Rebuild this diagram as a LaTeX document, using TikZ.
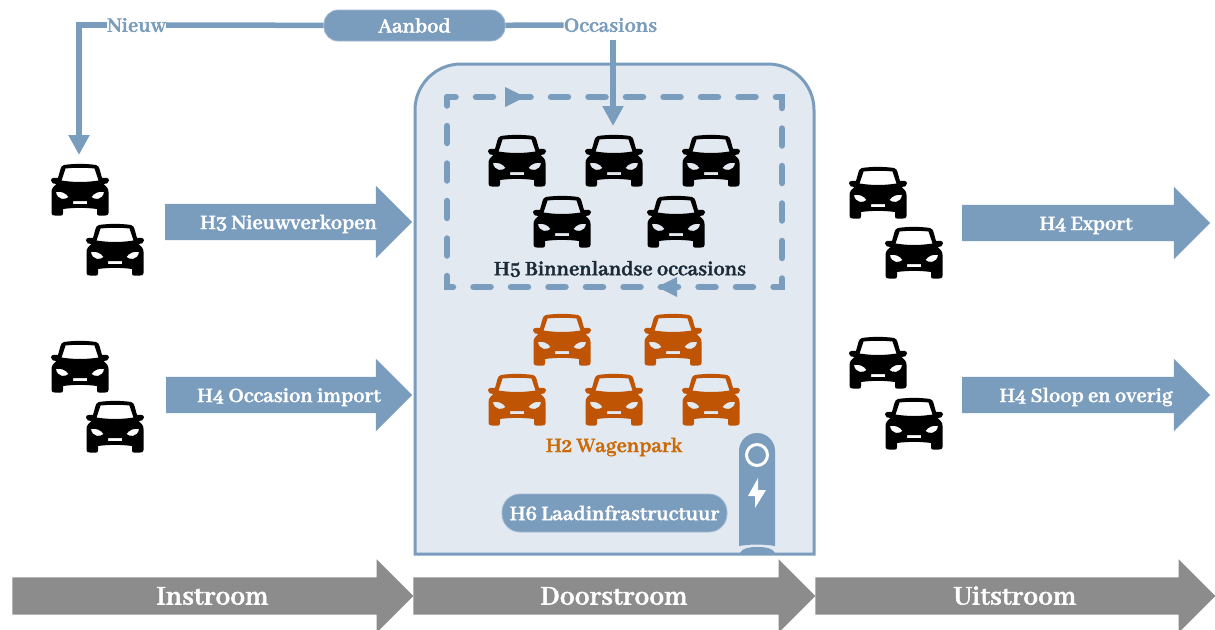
\documentclass[tikz,border=0pt]{standalone}
\usepackage{fontspec}
\setmainfont[Numbers=OldStyle, BoldFeatures={FakeBold=1.8}]{Abhaya Libre}
\usetikzlibrary{arrows.meta, shapes.arrows}

\definecolor{flowBlue}{HTML}{7A9CBD}
\definecolor{panelBlue}{HTML}{E2E9F0}
\definecolor{flowGrey}{HTML}{8C8C8C}
\definecolor{carOrange}{HTML}{C05405}
\definecolor{labelOrange}{HTML}{CC6A05}
\definecolor{labelDark}{HTML}{1B2A38}

\tikzset{
    labelText/.style={font=\fontsize{22.4}{24}\selectfont\bfseries, inner sep=0pt},
    blockArrow/.style={single arrow, fill=#1, text=white, draw=none, inner ysep=10pt, inner xsep=0pt,
        text height=15pt, text depth=1pt, minimum width=72pt, single arrow tip angle=90,
        single arrow head extend=18pt, execute at begin node=\hspace*{18pt}},
    flowArrow/.style={blockArrow=flowBlue, font=\fontsize{22.4}{24}\selectfont\bfseries},
    stageArrow/.style={blockArrow=flowGrey, minimum width=69pt, text height=17pt, text depth=0pt,
        font=\fontsize{29.5}{30}\selectfont\bfseries},
    pillNode/.style={rounded corners=14pt, fill=flowBlue, draw=flowBlue!70!white, text=white, line width=0.8pt,
        font=\fontsize{22.4}{24}\selectfont\bfseries},
    supplyLine/.style={draw=flowBlue, line width=5.5pt},
    supplyArrow/.style={supplyLine, -{Triangle[length=20pt, width=20pt]}},
    car/.pic={
        \path[pic actions, even odd rule]
            (-16,-25) .. controls (-6,-26.5) and (6,-26.5) .. (16,-25)
            .. controls (18,-24.5) and (19,-23) .. (19.5,-21) -- (22,-12)
            .. controls (25,-12.5) and (29,-12.5) .. (29,-9.5) .. controls (29,-6.5) and (26,-6) .. (23.5,-6)
            .. controls (26,-4) and (28.5,-2) .. (28.5,2) -- (28.5,23)
            .. controls (28.5,25) and (27,25.5) .. (25,25.5) -- (19,25.5)
            .. controls (17.5,25.5) and (17,25) .. (17,23) -- (17,19)
            .. controls (6,17.5) and (-6,17.5) .. (-17,19) -- (-17,23)
            .. controls (-17,25) and (-17.5,25.5) .. (-19,25.5) -- (-25,25.5)
            .. controls (-27,25.5) and (-28.5,25) .. (-28.5,23) -- (-28.5,2)
            .. controls (-28.5,-2) and (-26,-4) .. (-23.5,-6)
            .. controls (-26,-6) and (-29,-6.5) .. (-29,-9.5) .. controls (-29,-12.5) and (-25,-12.5) .. (-22,-12)
            -- (-19.5,-21) .. controls (-19,-23) and (-18,-24.5) .. (-16,-25) -- cycle
            (-14.5,-21.5) .. controls (-5,-22.5) and (5,-22.5) .. (14.5,-21.5) -- (18.5,-9.5)
            .. controls (6,-7.5) and (-6,-7.5) .. (-18.5,-9.5) -- cycle
            (-24,2) .. controls (-19,1) and (-14,3) .. (-11.5,7) .. controls (-14,10) and (-23,10.5) .. (-24,2) -- cycle
            (24,2) .. controls (19,1) and (14,3) .. (11.5,7) .. controls (14,10) and (23,10.5) .. (24,2) -- cycle
            (-7,11) rectangle (7,14);
    },
}

\begin{document}
\begin{tikzpicture}[x=1pt, y=-1pt]
        \useasboundingbox (0,0) rectangle (1215,629);

        \draw[draw=flowBlue, fill=panelBlue, line width=3pt] (415,554) -- (415,110)
            arc[start angle=180, end angle=270, radius=46] -- (768,64)
            arc[start angle=270, end angle=360, radius=46] -- (814,554) -- cycle;
        \draw[draw=flowBlue, line width=6.5pt, line cap=round, dash pattern=on 17pt off 20.5pt, dash phase=8.5pt]
            (447,97) -- (782,97) -- (782,287) -- (447,287) -- cycle;
        \fill[flowBlue] (505,87) -- (525,97) -- (505,107) -- cycle;
        \fill[flowBlue] (677,277) -- (657,287) -- (677,297) -- cycle;

        \node[pillNode, minimum width=181pt, minimum height=31pt] (aanbod) at (414.5,25.5) {Aanbod};
        \node[labelText, text=flowBlue] (nieuw) at (136.5,25) {Nieuw};
        \node[labelText, text=flowBlue] (occasions) at (610.5,25) {Occasions};
        \coordinate (nieuwEnd) at (79,155);
        \coordinate (occasionsStart) at (613,40);
        \coordinate (occasionsEnd) at (613,126);
        \draw[supplyLine] (aanbod) -- (nieuw);
        \draw[supplyLine] (aanbod) -- (occasions);
        \draw[supplyArrow] (nieuw.west) -| (nieuwEnd);
        \draw[supplyArrow] (occasionsStart) -- (occasionsEnd);

        \node[flowArrow, minimum height=247pt] (nieuwverkopen) at (279.5,222) {H3 Nieuwverkopen};
        \node[flowArrow, minimum height=246pt] (occasionImport) at (280,395) {H4 Occasion import};
        \node[flowArrow, minimum height=248pt] (export) at (1077,223) {H4 Export};
        \node[flowArrow, minimum height=248pt] (sloop) at (1077,395) {H4 Sloop en overig};

        \node[stageArrow, minimum height=401pt] (instroom) at (203.5,596) {Instroom};
        \node[stageArrow, minimum height=402pt] (doorstroom) at (605,596) {Doorstroom};
        \node[stageArrow, minimum height=400pt] (uitstroom) at (1006,596) {Uitstroom};

        \foreach \carX/\carY in {80/190, 115/250, 80/367, 115/427, 878/193, 914/253, 878/363, 914/424,
            517/161, 614/161, 711/161, 562/222, 676/222}
            \pic[fill=black] at (\carX,\carY) {car};
        \foreach \carX/\carY in {562/340, 673/340, 517/400, 614/400, 711/400}
            \pic[fill=carOrange] at (\carX,\carY) {car};

        \node[labelText, text=labelDark] (binnenlandse) at (620,269) {H5 Binnenlandse occasions};
        \node[labelText, text=labelOrange] (wagenpark) at (614,447) {H2 Wagenpark};
        \node[pillNode, rounded corners=18pt, minimum width=225pt, minimum height=38pt] (laadinfra) at (614.5,513) {H6 Laadinfrastructuur};

        \fill[flowBlue] (739,546) -- (739,451) arc[start angle=180, end angle=360, radius=18] -- (775,546)
            .. controls (763,544) and (751,544) .. (739,546) -- cycle;
        \fill[flowBlue] (740,553) .. controls (742,548) and (750,547) .. (757,547)
            .. controls (765,547) and (773,548) .. (775,553) -- cycle;
        \draw[white, line width=3pt] (757,455) circle[radius=10.5];
        \fill[white] (758,478) -- (748,496) -- (755,496) -- (755,508) -- (766,490) -- (758,490) -- cycle;
    \end{tikzpicture}
\end{document}
